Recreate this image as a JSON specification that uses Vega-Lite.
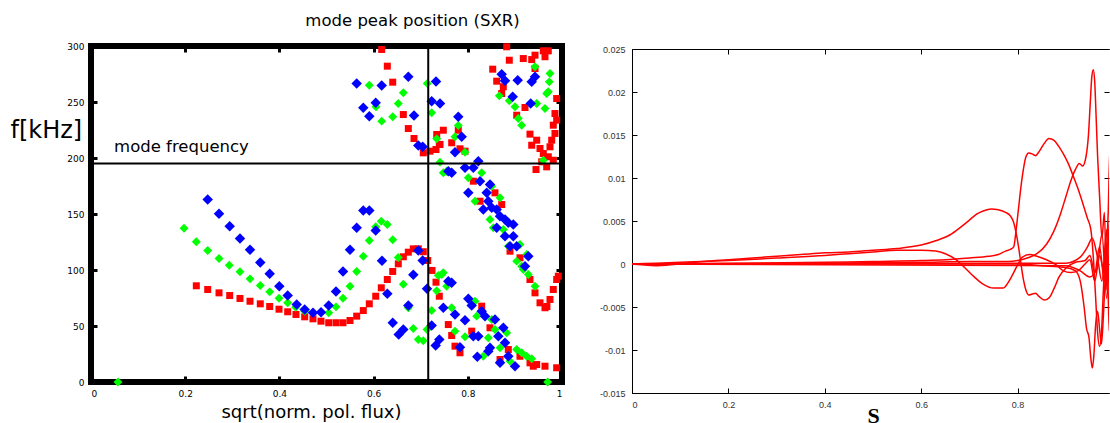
{
  "$schema": "https://vega.github.io/schema/vega-lite/v6.json",
  "autosize": {"type": "none"},
  "padding": {"left": 91, "top": 46, "right": 1019, "bottom": 377},
  "background": "white",
  "config": {"font": "DejaVu Sans"},
  "datasets": {
    "pts": [
      {"x":0.2236,"f":85.9,"s":"red"},{"x":0.2478,"f":82.6,"s":"red"},{"x":0.2718,"f":79.6,"s":"red"},{"x":0.2945,"f":77.2,"s":"red"},{"x":0.3163,"f":74.6,"s":"red"},{"x":0.3376,"f":72.1,"s":"red"},{"x":0.3594,"f":69.8,"s":"red"},{"x":0.3794,"f":67.4,"s":"red"},{"x":0.3992,"f":65.0,"s":"red"},{"x":0.4176,"f":62.7,"s":"red"},{"x":0.4352,"f":60.3,"s":"red"},{"x":0.4537,"f":58.2,"s":"red"},{"x":0.4713,"f":56.4,"s":"red"},{"x":0.4883,"f":54.3,"s":"red"},{"x":0.5047,"f":52.9,"s":"red"},{"x":0.5202,"f":52.9,"s":"red"},{"x":0.535,"f":52.9,"s":"red"},{"x":0.5499,"f":54.9,"s":"red"},{"x":0.5641,"f":58.8,"s":"red"},{"x":0.5781,"f":63.8,"s":"red"},{"x":0.5909,"f":69.8,"s":"red"},{"x":0.6045,"f":76.6,"s":"red"},{"x":0.6163,"f":84.1,"s":"red"},{"x":0.6291,"f":91.5,"s":"red"},{"x":0.6406,"f":98.7,"s":"red"},{"x":0.6524,"f":105.5,"s":"red"},{"x":0.6631,"f":111.8,"s":"red"},{"x":0.6737,"f":115.9,"s":"red"},{"x":0.6843,"f":118.9,"s":"red"},{"x":0.6949,"f":118.9,"s":"red"},{"x":0.7055,"f":116.3,"s":"red"},{"x":0.7149,"f":108.5,"s":"red"},{"x":0.724,"f":99.6,"s":"red"},{"x":0.7325,"f":89.1,"s":"red"},{"x":0.7395,"f":76.6,"s":"red"},{"x":0.7586,"f":51.3,"s":"red"},{"x":0.7658,"f":41.5,"s":"red"},{"x":0.7728,"f":32.0,"s":"red"},{"x":0.7834,"f":26.1,"s":"red"},{"x":0.8083,"f":45.4,"s":"red"},{"x":0.8295,"f":67.7,"s":"red"},{"x":0.8471,"f":48.4,"s":"red"},{"x":0.8684,"f":20.1,"s":"red"},{"x":0.886,"f":29.0,"s":"red"},{"x":0.9108,"f":23.0,"s":"red"},{"x":0.9321,"f":17.1,"s":"red"},{"x":0.939,"f":14.1,"s":"red"},{"x":0.9463,"f":15.6,"s":"red"},{"x":0.9639,"f":14.1,"s":"red"},{"x":0.9887,"f":12.7,"s":"red"},
      {"x":0.7055,"f":204.6,"s":"red"},{"x":0.741,"f":212.1,"s":"red"},{"x":0.7941,"f":206.1,"s":"red"},{"x":0.8117,"f":179.3,"s":"red"},{"x":0.8577,"f":168.9,"s":"red"},{"x":0.8259,"f":161.4,"s":"red"},{"x":0.872,"f":158.5,"s":"red"},{"x":0.8896,"f":116.8,"s":"red"},{"x":0.9108,"f":110.9,"s":"red"},{"x":0.932,"f":91.5,"s":"red"},{"x":0.9427,"f":79.6,"s":"red"},{"x":0.9533,"f":70.7,"s":"red"},{"x":0.9639,"f":66.3,"s":"red"},{"x":0.968,"f":67.4,"s":"red"},{"x":0.9745,"f":73.7,"s":"red"},{"x":0.9815,"f":82.6,"s":"red"},{"x":0.9887,"f":91.5,"s":"red"},{"x":0.9922,"f":94.5,"s":"red"},
      {"x":0.6172,"f":296.9,"s":"red"},{"x":0.6291,"f":282.0,"s":"red"},{"x":0.6406,"f":267.7,"s":"red"},{"x":0.6631,"f":238.8,"s":"red"},{"x":0.6737,"f":226.3,"s":"red"},{"x":0.6858,"f":217.4,"s":"red"},{"x":0.7197,"f":206.1,"s":"red"},{"x":0.7325,"f":207.6,"s":"red"},{"x":0.734,"f":221.0,"s":"red"},{"x":0.748,"f":224.8,"s":"red"},{"x":0.7395,"f":212.1,"s":"red"},{"x":0.7658,"f":213.6,"s":"red"},{"x":0.7798,"f":224.8,"s":"red"},{"x":0.7834,"f":208.2,"s":"red"},
      {"x":0.8826,"f":299.3,"s":"red"},{"x":0.9603,"f":295.7,"s":"red"},{"x":0.9709,"f":295.7,"s":"red"},{"x":0.8881,"f":287.3,"s":"red"},{"x":0.9178,"f":288.8,"s":"red"},{"x":0.9357,"f":287.9,"s":"red"},{"x":0.9427,"f":291.8,"s":"red"},{"x":0.9639,"f":290.4,"s":"red"},{"x":0.8529,"f":279.3,"s":"red"},{"x":0.9427,"f":279.9,"s":"red"},{"x":0.8614,"f":268.6,"s":"red"},{"x":0.8754,"f":263.6,"s":"red"},{"x":0.872,"f":257.6,"s":"red"},{"x":0.9887,"f":253.1,"s":"red"},{"x":0.9214,"f":245.1,"s":"red"},{"x":0.9038,"f":238.2,"s":"red"},{"x":0.9851,"f":239.7,"s":"red"},{"x":0.9887,"f":233.8,"s":"red"},{"x":0.9815,"f":229.3,"s":"red"},{"x":0.9851,"f":221.9,"s":"red"},{"x":0.9781,"f":215.9,"s":"red"},{"x":0.932,"f":221.3,"s":"red"},{"x":0.9463,"f":215.9,"s":"red"},{"x":0.9357,"f":211.4,"s":"red"},{"x":0.9533,"f":208.5,"s":"red"},{"x":0.9603,"f":204.0,"s":"red"},{"x":0.9709,"f":201.1,"s":"red"},{"x":0.9745,"f":210.0,"s":"red"},{"x":0.9675,"f":192.1,"s":"red"},{"x":0.9569,"f":196.6,"s":"red"},{"x":0.9815,"f":198.0,"s":"red"},{"x":0.9448,"f":189.7,"s":"red"},
      {"x":0.0573,"f":0,"s":"green"},{"x":0.1975,"f":137.3,"s":"green"},{"x":0.2236,"f":125.2,"s":"green"},{"x":0.2478,"f":117.4,"s":"green"},{"x":0.2718,"f":110.3,"s":"green"},{"x":0.2936,"f":104.3,"s":"green"},{"x":0.3163,"f":98.4,"s":"green"},{"x":0.3376,"f":92.1,"s":"green"},{"x":0.3594,"f":86.2,"s":"green"},{"x":0.3794,"f":80.5,"s":"green"},{"x":0.3992,"f":74.8,"s":"green"},{"x":0.4176,"f":70.7,"s":"green"},{"x":0.4346,"f":66.8,"s":"green"},{"x":0.4537,"f":63.2,"s":"green"},{"x":0.5047,"f":61.8,"s":"green"},{"x":0.5202,"f":67.1,"s":"green"},{"x":0.535,"f":74.8,"s":"green"},{"x":0.5499,"f":85.5,"s":"green"},{"x":0.5641,"f":98.7,"s":"green"},{"x":0.5781,"f":112.3,"s":"green"},{"x":0.5909,"f":126.3,"s":"green"},{"x":0.6045,"f":138.6,"s":"green"},{"x":0.6163,"f":143.6,"s":"green"},{"x":0.6291,"f":140.6,"s":"green"},{"x":0.6406,"f":127.0,"s":"green"},{"x":0.6524,"f":111.2,"s":"green"},{"x":0.6631,"f":87.3,"s":"green"},{"x":0.6737,"f":66.3,"s":"green"},{"x":0.6843,"f":47.8,"s":"green"},{"x":0.6949,"f":37.9,"s":"green"},{"x":0.7055,"f":36.8,"s":"green"},{"x":0.7134,"f":46.9,"s":"green"},{"x":0.7233,"f":63.8,"s":"green"},{"x":0.734,"f":81.4,"s":"green"},{"x":0.7374,"f":95.1,"s":"green"},{"x":0.7446,"f":96.0,"s":"green"},{"x":0.748,"f":97.5,"s":"green"},{"x":0.7551,"f":85.5,"s":"green"},{"x":0.7658,"f":66.3,"s":"green"},{"x":0.7728,"f":45.4,"s":"green"},{"x":0.7941,"f":40.4,"s":"green"},{"x":0.8153,"f":72.1,"s":"green"},{"x":0.8189,"f":58.8,"s":"green"},{"x":0.8329,"f":23.0,"s":"green"},{"x":0.8435,"f":39.5,"s":"green"},{"x":0.8507,"f":55.8,"s":"green"},{"x":0.8577,"f":46.9,"s":"green"},{"x":0.8684,"f":30.5,"s":"green"},{"x":0.8826,"f":43.9,"s":"green"},{"x":0.8896,"f":18.6,"s":"green"},{"x":0.9038,"f":29.0,"s":"green"},{"x":0.9144,"f":26.1,"s":"green"},{"x":0.925,"f":23.0,"s":"green"},{"x":0.9357,"f":20.7,"s":"green"},{"x":0.9696,"f":0,"s":"green"},
      {"x":0.741,"f":196.3,"s":"green"},{"x":0.7551,"f":188.2,"s":"green"},{"x":0.8011,"f":182.3,"s":"green"},{"x":0.8295,"f":186.8,"s":"green"},{"x":0.8153,"f":161.4,"s":"green"},{"x":0.8507,"f":174.8,"s":"green"},{"x":0.8684,"f":164.5,"s":"green"},{"x":0.8471,"f":145.1,"s":"green"},{"x":0.8541,"f":137.7,"s":"green"},{"x":0.8754,"f":136.2,"s":"green"},{"x":0.886,"f":121.3,"s":"green"},{"x":0.9108,"f":122.8,"s":"green"},{"x":0.9038,"f":107.9,"s":"green"},{"x":0.9251,"f":113.8,"s":"green"},{"x":0.9144,"f":103.4,"s":"green"},{"x":0.9285,"f":96.0,"s":"green"},{"x":0.9427,"f":85.5,"s":"green"},{"x":0.9178,"f":100.4,"s":"green"},
      {"x":0.5909,"f":265.0,"s":"green"},{"x":0.6631,"f":258.2,"s":"green"},{"x":0.6524,"f":248.7,"s":"green"},{"x":0.6051,"f":245.7,"s":"green"},{"x":0.6172,"f":232.9,"s":"green"},{"x":0.6406,"f":236.8,"s":"green"},{"x":0.714,"f":266.5,"s":"green"},{"x":0.7233,"f":240.4,"s":"green"},{"x":0.7798,"f":229.0,"s":"green"},{"x":0.734,"f":217.1,"s":"green"},{"x":0.7728,"f":218.9,"s":"green"},{"x":0.7941,"f":205.2,"s":"green"},{"x":0.748,"f":186.8,"s":"green"},
      {"x":0.9427,"f":281.4,"s":"green"},{"x":0.9745,"f":275.4,"s":"green"},{"x":0.9731,"f":268.0,"s":"green"},{"x":0.8669,"f":255.5,"s":"green"},{"x":0.8881,"f":251.1,"s":"green"},{"x":0.9002,"f":245.7,"s":"green"},{"x":0.9072,"f":235.3,"s":"green"},{"x":0.9144,"f":229.3,"s":"green"},{"x":0.9463,"f":248.7,"s":"green"},{"x":0.9639,"f":244.2,"s":"green"},{"x":0.9675,"f":257.6,"s":"green"},{"x":0.9709,"f":259.1,"s":"green"},{"x":0.9603,"f":198.0,"s":"green"},
      {"x":0.2478,"f":162.9,"s":"blue"},{"x":0.2718,"f":150.2,"s":"blue"},{"x":0.2945,"f":139.1,"s":"blue"},{"x":0.3163,"f":128.1,"s":"blue"},{"x":0.3376,"f":118.0,"s":"blue"},{"x":0.3594,"f":106.7,"s":"blue"},{"x":0.3794,"f":96.6,"s":"blue"},{"x":0.3998,"f":85.5,"s":"blue"},{"x":0.4176,"f":77.2,"s":"blue"},{"x":0.4367,"f":69.2,"s":"blue"},{"x":0.4537,"f":64.7,"s":"blue"},{"x":0.4713,"f":61.8,"s":"blue"},{"x":0.4883,"f":62.3,"s":"blue"},{"x":0.5047,"f":68.3,"s":"blue"},{"x":0.5202,"f":80.8,"s":"blue"},{"x":0.535,"f":98.7,"s":"blue"},{"x":0.5499,"f":118.0,"s":"blue"},{"x":0.5641,"f":137.7,"s":"blue"},{"x":0.5781,"f":153.1,"s":"blue"},{"x":0.5909,"f":153.1,"s":"blue"},{"x":0.6045,"f":135.3,"s":"blue"},{"x":0.6178,"f":108.2,"s":"blue"},{"x":0.6291,"f":78.8,"s":"blue"},{"x":0.6406,"f":52.9,"s":"blue"},{"x":0.6533,"f":42.4,"s":"blue"},{"x":0.6631,"f":46.9,"s":"blue"},{"x":0.6737,"f":68.3,"s":"blue"},{"x":0.6843,"f":95.7,"s":"blue"},{"x":0.6949,"f":117.4,"s":"blue"},{"x":0.7042,"f":108.5,"s":"blue"},{"x":0.7134,"f":83.2,"s":"blue"},{"x":0.7233,"f":50.4,"s":"blue"},{"x":0.7318,"f":32.6,"s":"blue"},{"x":0.7395,"f":37.9,"s":"blue"},{"x":0.748,"f":66.3,"s":"blue"},{"x":0.7586,"f":90.0,"s":"blue"},{"x":0.7658,"f":88.6,"s":"blue"},{"x":0.7728,"f":60.3,"s":"blue"},{"x":0.7834,"f":31.1,"s":"blue"},{"x":0.7941,"f":55.2,"s":"blue"},{"x":0.8011,"f":74.3,"s":"blue"},{"x":0.8083,"f":68.3,"s":"blue"},{"x":0.8117,"f":40.9,"s":"blue"},{"x":0.8223,"f":40.9,"s":"blue"},{"x":0.8202,"f":22.5,"s":"blue"},{"x":0.8295,"f":63.2,"s":"blue"},{"x":0.8365,"f":58.8,"s":"blue"},{"x":0.8471,"f":30.5,"s":"blue"},{"x":0.8435,"f":27.5,"s":"blue"},{"x":0.8577,"f":55.8,"s":"blue"},{"x":0.8648,"f":40.9,"s":"blue"},{"x":0.8684,"f":17.1,"s":"blue"},{"x":0.8754,"f":48.4,"s":"blue"},{"x":0.879,"f":35.0,"s":"blue"},{"x":0.886,"f":23.0,"s":"blue"},{"x":0.9002,"f":14.1,"s":"blue"},
      {"x":0.7586,"f":188.2,"s":"blue"},{"x":0.7658,"f":186.8,"s":"blue"},{"x":0.7941,"f":191.3,"s":"blue"},{"x":0.8117,"f":191.3,"s":"blue"},{"x":0.8223,"f":197.1,"s":"blue"},{"x":0.8259,"f":179.3,"s":"blue"},{"x":0.8471,"f":176.3,"s":"blue"},{"x":0.8401,"f":168.9,"s":"blue"},{"x":0.8011,"f":168.9,"s":"blue"},{"x":0.8435,"f":161.4,"s":"blue"},{"x":0.8329,"f":154.0,"s":"blue"},{"x":0.8507,"f":155.5,"s":"blue"},{"x":0.8614,"f":154.0,"s":"blue"},{"x":0.8684,"f":148.0,"s":"blue"},{"x":0.879,"f":145.1,"s":"blue"},{"x":0.886,"f":142.1,"s":"blue"},{"x":0.8966,"f":140.6,"s":"blue"},{"x":0.8614,"f":137.7,"s":"blue"},{"x":0.879,"f":130.2,"s":"blue"},{"x":0.8966,"f":130.2,"s":"blue"},{"x":0.8896,"f":121.3,"s":"blue"},{"x":0.9038,"f":121.3,"s":"blue"},{"x":0.9214,"f":103.4,"s":"blue"},{"x":0.9285,"f":112.3,"s":"blue"},
      {"x":0.5641,"f":266.5,"s":"blue"},{"x":0.6172,"f":264.7,"s":"blue"},{"x":0.6737,"f":272.5,"s":"blue"},{"x":0.6045,"f":249.3,"s":"blue"},{"x":0.5781,"f":244.8,"s":"blue"},{"x":0.5909,"f":237.3,"s":"blue"},{"x":0.6858,"f":237.9,"s":"blue"},{"x":0.7325,"f":268.3,"s":"blue"},{"x":0.7233,"f":250.7,"s":"blue"},{"x":0.741,"f":248.7,"s":"blue"},{"x":0.6949,"f":211.2,"s":"blue"},{"x":0.7042,"f":210.0,"s":"blue"},{"x":0.7798,"f":236.8,"s":"blue"},{"x":0.787,"f":218.9,"s":"blue"},{"x":0.7728,"f":205.2,"s":"blue"},
      {"x":0.872,"f":274.8,"s":"blue"},{"x":0.879,"f":268.9,"s":"blue"},{"x":0.9059,"f":269.5,"s":"blue"},{"x":0.9357,"f":268.0,"s":"blue"},{"x":0.9427,"f":272.5,"s":"blue"},{"x":0.8953,"f":254.6,"s":"blue"},{"x":0.9335,"f":248.7,"s":"blue"}
    ],
    "curves": [
      {"c":"c1","s":0,"v":0},{"c":"c1","s":0.02,"v":-0.0001},{"c":"c1","s":0.05,"v":-0.0002},{"c":"c1","s":0.08,"v":-0.0001},{"c":"c1","s":0.11,"v":0.0001},{"c":"c1","s":0.15,"v":0.0003},{"c":"c1","s":0.2,"v":0.0005},{"c":"c1","s":0.25,"v":0.0007},{"c":"c1","s":0.3,"v":0.0009},{"c":"c1","s":0.35,"v":0.0011},{"c":"c1","s":0.4,"v":0.0013},{"c":"c1","s":0.45,"v":0.0014},{"c":"c1","s":0.5,"v":0.0016},{"c":"c1","s":0.55,"v":0.0018},{"c":"c1","s":0.6,"v":0.0022},{"c":"c1","s":0.63,"v":0.0027},{"c":"c1","s":0.66,"v":0.0034},{"c":"c1","s":0.68,"v":0.0042},{"c":"c1","s":0.7,"v":0.0051},{"c":"c1","s":0.715,"v":0.0058},{"c":"c1","s":0.73,"v":0.0062},{"c":"c1","s":0.745,"v":0.0064},{"c":"c1","s":0.76,"v":0.0063},{"c":"c1","s":0.775,"v":0.006},{"c":"c1","s":0.785,"v":0.0056},{"c":"c1","s":0.792,"v":0.0048},{"c":"c1","s":0.797,"v":0.0036},{"c":"c1","s":0.802,"v":0.002},{"c":"c1","s":0.807,"v":0.0},{"c":"c1","s":0.812,"v":-0.0018},{"c":"c1","s":0.817,"v":-0.003},{"c":"c1","s":0.823,"v":-0.0036},{"c":"c1","s":0.83,"v":-0.0035},{"c":"c1","s":0.837,"v":-0.0034},{"c":"c1","s":0.845,"v":-0.0038},{"c":"c1","s":0.856,"v":-0.0042},{"c":"c1","s":0.866,"v":-0.0039},{"c":"c1","s":0.876,"v":-0.0028},{"c":"c1","s":0.886,"v":-0.0015},{"c":"c1","s":0.9,"v":-0.0005},{"c":"c1","s":0.92,"v":0.0002},{"c":"c1","s":0.94,"v":0.0004},{"c":"c1","s":0.95,"v":0.001},{"c":"c1","s":0.96,"v":-0.001},{"c":"c1","s":0.97,"v":0.002},{"c":"c1","s":0.98,"v":-0.002},{"c":"c1","s":0.99,"v":0.001},{"c":"c1","s":1.0,"v":0},
      {"c":"c2","s":0,"v":0},{"c":"c2","s":0.2,"v":0.0001},{"c":"c2","s":0.4,"v":0.0002},{"c":"c2","s":0.5,"v":0.0003},{"c":"c2","s":0.6,"v":0.0004},{"c":"c2","s":0.65,"v":0.0005},{"c":"c2","s":0.7,"v":0.0007},{"c":"c2","s":0.74,"v":0.0009},{"c":"c2","s":0.76,"v":0.0011},{"c":"c2","s":0.775,"v":0.0015},{"c":"c2","s":0.785,"v":0.0017},{"c":"c2","s":0.792,"v":0.002},{"c":"c2","s":0.797,"v":0.004},{"c":"c2","s":0.802,"v":0.0065},{"c":"c2","s":0.807,"v":0.009},{"c":"c2","s":0.812,"v":0.011},{"c":"c2","s":0.817,"v":0.0124},{"c":"c2","s":0.823,"v":0.0129},{"c":"c2","s":0.83,"v":0.0128},{"c":"c2","s":0.837,"v":0.0126},{"c":"c2","s":0.845,"v":0.0131},{"c":"c2","s":0.855,"v":0.014},{"c":"c2","s":0.865,"v":0.0146},{"c":"c2","s":0.875,"v":0.0144},{"c":"c2","s":0.885,"v":0.0137},{"c":"c2","s":0.895,"v":0.0128},{"c":"c2","s":0.905,"v":0.0117},{"c":"c2","s":0.915,"v":0.0103},{"c":"c2","s":0.925,"v":0.0088},{"c":"c2","s":0.935,"v":0.0071},{"c":"c2","s":0.945,"v":0.0053},{"c":"c2","s":0.952,"v":0.004},{"c":"c2","s":0.958,"v":0.0},{"c":"c2","s":0.962,"v":-0.004},{"c":"c2","s":0.966,"v":-0.008},{"c":"c2","s":0.97,"v":-0.0096},{"c":"c2","s":0.974,"v":-0.008},{"c":"c2","s":0.978,"v":-0.003},{"c":"c2","s":0.983,"v":0.002},{"c":"c2","s":0.988,"v":-0.002},{"c":"c2","s":0.995,"v":0.004},{"c":"c2","s":1.0,"v":0},
      {"c":"c3","s":0,"v":0},{"c":"c3","s":0.05,"v":0.0001},{"c":"c3","s":0.1,"v":0.0002},{"c":"c3","s":0.2,"v":0.0004},{"c":"c3","s":0.3,"v":0.0007},{"c":"c3","s":0.4,"v":0.001},{"c":"c3","s":0.45,"v":0.0012},{"c":"c3","s":0.5,"v":0.0014},{"c":"c3","s":0.55,"v":0.0016},{"c":"c3","s":0.6,"v":0.0016},{"c":"c3","s":0.63,"v":0.0015},{"c":"c3","s":0.65,"v":0.0012},{"c":"c3","s":0.67,"v":0.0006},{"c":"c3","s":0.69,"v":-0.0004},{"c":"c3","s":0.71,"v":-0.0015},{"c":"c3","s":0.73,"v":-0.0024},{"c":"c3","s":0.75,"v":-0.0028},{"c":"c3","s":0.77,"v":-0.0028},{"c":"c3","s":0.78,"v":-0.0022},{"c":"c3","s":0.79,"v":-0.0012},{"c":"c3","s":0.8,"v":-0.0001},{"c":"c3","s":0.81,"v":0.0008},{"c":"c3","s":0.825,"v":0.0011},{"c":"c3","s":0.84,"v":0.0009},{"c":"c3","s":0.86,"v":0.0005},{"c":"c3","s":0.88,"v":-0.0001},{"c":"c3","s":0.895,"v":-0.0008},{"c":"c3","s":0.91,"v":-0.001},{"c":"c3","s":0.925,"v":-0.0008},{"c":"c3","s":0.94,"v":0.0},{"c":"c3","s":0.95,"v":0.0005},{"c":"c3","s":0.96,"v":-0.002},{"c":"c3","s":0.97,"v":0.001},{"c":"c3","s":0.98,"v":-0.001},{"c":"c3","s":1.0,"v":0},
      {"c":"c4","s":0,"v":0},{"c":"c4","s":0.4,"v":0.0001},{"c":"c4","s":0.6,"v":0.0002},{"c":"c4","s":0.7,"v":0.0003},{"c":"c4","s":0.78,"v":0.0003},{"c":"c4","s":0.8,"v":0.0004},{"c":"c4","s":0.82,"v":0.0007},{"c":"c4","s":0.84,"v":0.0012},{"c":"c4","s":0.86,"v":0.0023},{"c":"c4","s":0.875,"v":0.0038},{"c":"c4","s":0.89,"v":0.006},{"c":"c4","s":0.9,"v":0.0078},{"c":"c4","s":0.91,"v":0.0096},{"c":"c4","s":0.92,"v":0.011},{"c":"c4","s":0.928,"v":0.0117},{"c":"c4","s":0.935,"v":0.0114},{"c":"c4","s":0.942,"v":0.0125},{"c":"c4","s":0.947,"v":0.015},{"c":"c4","s":0.951,"v":0.019},{"c":"c4","s":0.954,"v":0.0218},{"c":"c4","s":0.957,"v":0.0226},{"c":"c4","s":0.96,"v":0.0212},{"c":"c4","s":0.963,"v":0.017},{"c":"c4","s":0.966,"v":0.0125},{"c":"c4","s":0.97,"v":0.008},{"c":"c4","s":0.975,"v":0.003},{"c":"c4","s":0.98,"v":0.006},{"c":"c4","s":0.985,"v":-0.003},{"c":"c4","s":0.99,"v":0.005},{"c":"c4","s":1.0,"v":0},
      {"c":"c5","s":0,"v":0},{"c":"c5","s":0.5,"v":0},{"c":"c5","s":0.8,"v":0.0},{"c":"c5","s":0.85,"v":-0.0002},{"c":"c5","s":0.9,"v":-0.0004},{"c":"c5","s":0.92,"v":-0.0008},{"c":"c5","s":0.93,"v":-0.002},{"c":"c5","s":0.938,"v":-0.005},{"c":"c5","s":0.943,"v":-0.0075},{"c":"c5","s":0.948,"v":-0.0085},{"c":"c5","s":0.952,"v":-0.011},{"c":"c5","s":0.955,"v":-0.0121},{"c":"c5","s":0.958,"v":-0.0108},{"c":"c5","s":0.962,"v":-0.007},{"c":"c5","s":0.966,"v":-0.0055},{"c":"c5","s":0.97,"v":-0.0075},{"c":"c5","s":0.974,"v":-0.0093},{"c":"c5","s":0.978,"v":-0.006},{"c":"c5","s":0.983,"v":0.0},{"c":"c5","s":0.988,"v":0.006},{"c":"c5","s":0.992,"v":0.014},{"c":"c5","s":0.996,"v":-0.007},{"c":"c5","s":1.0,"v":0},
      {"c":"c6","s":0,"v":0},{"c":"c6","s":0.9,"v":0.0001},{"c":"c6","s":0.93,"v":0.0008},{"c":"c6","s":0.945,"v":0.002},{"c":"c6","s":0.955,"v":0.003},{"c":"c6","s":0.965,"v":0.001},{"c":"c6","s":0.975,"v":-0.002},{"c":"c6","s":0.985,"v":0.004},{"c":"c6","s":0.99,"v":-0.0078},{"c":"c6","s":0.995,"v":0.01},{"c":"c6","s":1.0,"v":0},
      {"c":"c7","s":0,"v":0},{"c":"c7","s":0.9,"v":-0.0002},{"c":"c7","s":0.93,"v":-0.0008},{"c":"c7","s":0.95,"v":-0.0015},{"c":"c7","s":0.965,"v":-0.0005},{"c":"c7","s":0.975,"v":0.0035},{"c":"c7","s":0.985,"v":-0.004},{"c":"c7","s":0.995,"v":0.006},{"c":"c7","s":1.0,"v":0}
    ]
  },
  "hconcat": [
    {
      "width": 471,
      "height": 336,
      "view": {"stroke": "black", "strokeWidth": 6},
      "title": {"text": "mode peak position (SXR)", "fontSize": 16.5, "fontWeight": "normal", "font": "DejaVu Sans", "color": "black", "dx": 86, "offset": 13},
      "layer": [
        {
          "data": {"name": "pts"},
          "mark": {"type": "point", "filled": true, "opacity": 1},
          "encoding": {
            "x": {"field": "x", "type": "quantitative", "scale": {"domain": [0, 1], "nice": false},
              "axis": {"orient": "bottom", "values": [0, 0.2, 0.4, 0.6, 0.8, 1], "format": "~g", "grid": false, "domain": false,
                "tickSize": -6, "tickWidth": 3, "tickColor": "black", "labelPadding": 13, "labelFont": "DejaVu Sans", "labelFontSize": 9, "labelColor": "black",
                "title": "sqrt(norm. pol. flux)", "titleFont": "DejaVu Sans", "titleFontSize": 18, "titleFontWeight": "normal", "titleColor": "black", "titlePadding": 5, "titleX": 220}},
            "y": {"field": "f", "type": "quantitative", "scale": {"domain": [0, 300], "nice": false},
              "axis": {"orient": "left", "values": [0, 50, 100, 150, 200, 250, 300], "grid": false, "domain": false,
                "tickSize": -6, "tickWidth": 3, "tickColor": "black", "labelPadding": 13, "labelFont": "DejaVu Sans", "labelFontSize": 9, "labelColor": "black",
                "title": "f[kHz]", "titleFont": "DejaVu Sans", "titleFontSize": 24, "titleFontWeight": "normal", "titleColor": "black", "titleAngle": 0, "titleAlign": "left", "titleBaseline": "middle", "titleX": -81, "titleY": 84}},
            "color": {"field": "s", "type": "nominal", "scale": {"domain": ["red", "green", "blue"], "range": ["#ff0000", "#00ff00", "#0000ff"]}, "legend": null},
            "shape": {"field": "s", "type": "nominal", "scale": {"domain": ["red", "green", "blue"], "range": ["square", "diamond", "diamond"]}, "legend": null},
            "size": {"field": "s", "type": "nominal", "scale": {"domain": ["red", "green", "blue"], "range": [49, 110, 110]}, "legend": null}
          }
        },
        {
          "data": {"values": [{"v": 195}]},
          "mark": {"type": "rule", "color": "black", "strokeWidth": 2},
          "encoding": {
            "y": {"field": "v", "type": "quantitative", "scale": {"domain": [0, 300], "nice": false},
              "axis": {"orient": "right", "values": [0, 50, 100, 150, 200, 250, 300], "labels": false, "grid": false, "domain": false, "tickSize": -6, "tickWidth": 3, "tickColor": "black", "title": null}}
          }
        },
        {
          "data": {"values": [{"v": 0.716}]},
          "mark": {"type": "rule", "color": "black", "strokeWidth": 2},
          "encoding": {
            "x": {"field": "v", "type": "quantitative", "scale": {"domain": [0, 1], "nice": false},
              "axis": {"orient": "top", "values": [0, 0.2, 0.4, 0.6, 0.8, 1], "labels": false, "grid": false, "domain": false, "tickSize": -6, "tickWidth": 3, "tickColor": "black", "title": null}}
          }
        },
        {
          "data": {"values": [{"x": 0.049, "f": 205.8, "t": "mode frequency"}]},
          "mark": {"type": "text", "align": "left", "baseline": "alphabetic", "fontSize": 16.5, "font": "DejaVu Sans", "color": "black"},
          "encoding": {
            "x": {"field": "x", "type": "quantitative", "axis": null},
            "y": {"field": "f", "type": "quantitative", "axis": null},
            "text": {"field": "t"}
          }
        }
      ],
      "resolve": {"axis": {"x": "independent", "y": "independent"}}
    },
    {
      "vconcat": [
        {
          "width": 477,
          "height": 3,
          "view": {"stroke": null},
          "data": {"values": []},
          "mark": "point",
          "encoding": {}
        },
        {
          "width": 477,
          "height": 344,
          "view": {"stroke": null},
          "layer": [
            {
              "data": {"name": "curves"},
              "mark": {"type": "line", "color": "#ff0000", "strokeWidth": 1.5, "clip": true, "interpolate": "monotone"},
              "encoding": {
                "x": {"field": "s", "type": "quantitative", "scale": {"domain": [0, 0.98963], "nice": false, "zero": false},
                  "axis": {"orient": "bottom", "values": [0, 0.2, 0.4, 0.6, 0.8], "format": "~g", "grid": false, "domain": true, "domainColor": "black", "domainWidth": 1,
                    "tickSize": -5, "tickColor": "black", "labelPadding": 12, "labelFont": "Liberation Sans", "labelFontSize": 9, "labelColor": "#333333",
                    "title": "S", "titleFont": "Liberation Serif", "titleFontSize": 22, "titleFontWeight": "bold", "titleColor": "black", "titlePadding": -4, "titleX": 241}},
                "y": {"field": "v", "type": "quantitative", "scale": {"domain": [-0.015, 0.025], "nice": false, "zero": false},
                  "axis": {"orient": "left", "values": [-0.015, -0.01, -0.005, 0, 0.005, 0.01, 0.015, 0.02, 0.025], "labelExpr": "datum.value < 0 ? '-' + format(-datum.value, '~g') : format(datum.value, '~g')", "grid": false, "domain": true, "domainColor": "black", "domainWidth": 1,
                    "tickSize": -5, "tickColor": "black", "labelPadding": 12, "labelFont": "Liberation Sans", "labelFontSize": 9, "labelColor": "#333333", "title": null}},
                "detail": {"field": "c", "type": "nominal"}
              }
            },
            {
              "data": {"values": [{"s": 0, "v": 0}]},
              "mark": {"type": "point", "opacity": 0},
              "encoding": {
                "x": {"field": "s", "type": "quantitative", "scale": {"domain": [0, 0.98963], "nice": false, "zero": false},
                  "axis": {"orient": "top", "values": [0, 0.2, 0.4, 0.6, 0.8], "labels": false, "grid": false, "domain": true, "domainColor": "black", "tickSize": -5, "tickColor": "black", "title": null}},
                "y": {"field": "v", "type": "quantitative", "scale": {"domain": [-0.015, 0.025], "nice": false, "zero": false},
                  "axis": {"orient": "right", "values": [-0.015, -0.01, -0.005, 0, 0.005, 0.01, 0.015, 0.02, 0.025], "labels": false, "grid": false, "domain": false, "tickSize": -5, "tickColor": "black", "title": null}}
              }
            }
          ],
          "resolve": {"axis": {"x": "independent", "y": "independent"}}
        }
      ],
      "spacing": 0,
      "bounds": "flush"
    }
  ],
  "spacing": 70,
  "bounds": "flush"
}
